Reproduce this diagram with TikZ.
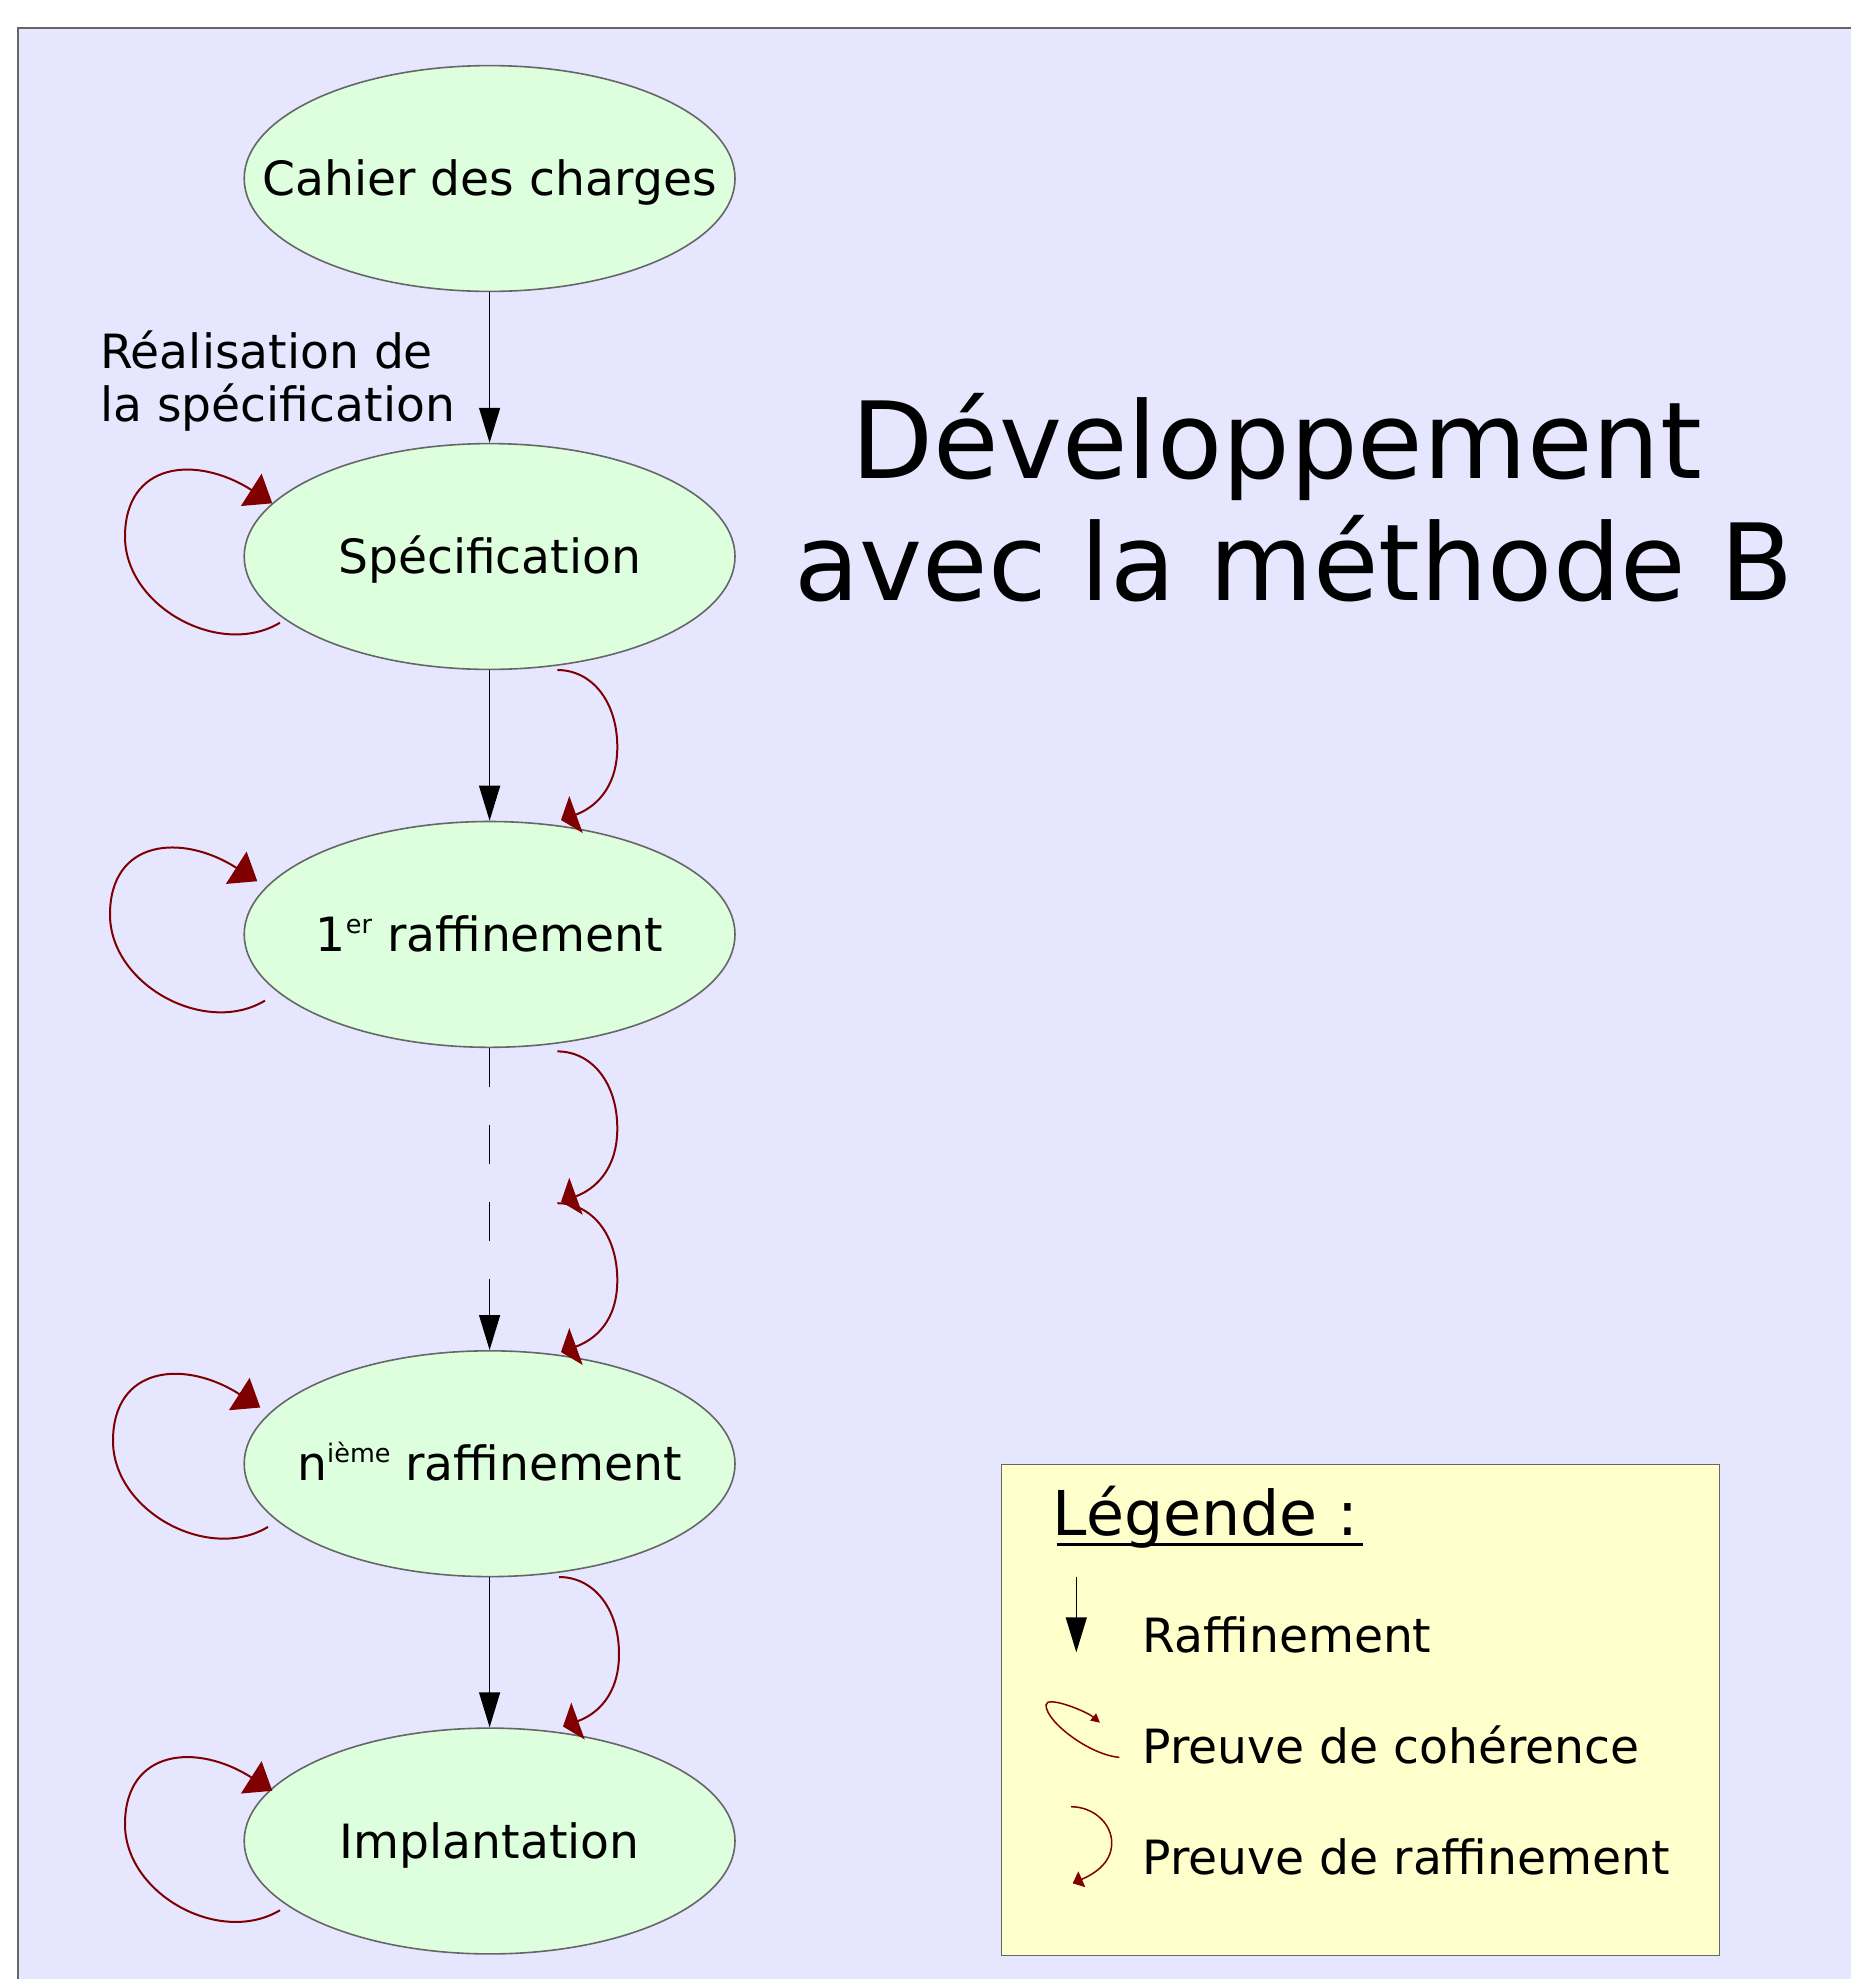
\documentclass[tikz,border=0pt]{standalone}
\usepackage{fontspec}
\setmainfont{DejaVu Sans}
\usetikzlibrary{shapes.geometric,arrows.meta,calc}

\definecolor{fondplan}{HTML}{E6E6FF}
\definecolor{fondetape}{HTML}{DDFFDD}
\definecolor{fondlegende}{HTML}{FFFFCC}
\definecolor{cadre}{HTML}{666666}
\definecolor{preuve}{HTML}{800000}

% superscript used in the step labels
\newcommand\expo[1]{\raisebox{18pt}{\fontsize{25.5}{25.5}\selectfont #1}}
% body text size
\newcommand\corps{\fontsize{47.2}{53}\selectfont}

% consistency proof: a loop on the left side of a step (node, dx, dy)
\newcommand\cohloop[3]{%
  \draw[cohstyle]
    ($(#1.center)+({-209.6+(#2)},{66.2+(#3)})$)
    .. controls +(-60,36) and +(0,70) .. ($(#1.center)+({-364.6+(#2)},{-19.8+(#3)})$)
    .. controls +(0,-75) and +(-75.8,-48.5) .. ($(#1.center)+({-217.3+(#2)},{-53.2+(#3)})$);}

% refinement proof: a half loop on the right between two steps
\newcommand\preuveraff[2]{%
  \draw[refstyle] (#1) .. controls +(35,0) and +(0,-45) .. ++(60,77)
    .. controls +(0,42) and +(33,-12) .. (#2);}

\begin{document}
\begin{tikzpicture}[x=1pt,y=-1pt,
  etapenode/.style={ellipse, draw=cadre, line width=1.6pt, fill=fondetape,
    minimum width=490.8pt, minimum height=225.8pt, inner sep=0pt,
    text height=34pt, text depth=0pt, font=\corps},
  raffarrow/.style={line width=1.4pt, -{Triangle[length=35pt,width=21pt]}},
  cohstyle/.style={color=preuve, line width=2pt, -{Triangle[length=25pt,width=38pt]}},
  refstyle/.style={color=preuve, line width=2pt, -{Triangle[length=16pt,width=39pt]}},
  legtxt/.style={anchor=base west, inner sep=0pt, font=\corps}]

\useasboundingbox (0,0) rectangle (1851,1979);
\fill[white] (0,0) rectangle (1851,1979);

% drawing area
\fill[fondplan] (17.7,27.8) rectangle (1851,1979);
\draw[cadre, line width=1.8pt] (17.7,1979) -- (17.7,27.8) -- (1851,27.8);

% development steps
\node[etapenode] (cdc)  at (489.6,178.5)  {\makebox[0pt]{Cahier des charges}};
\node[etapenode] (spec) at (489.6,556.5)  {\makebox[0pt]{Spécification}};
\node[etapenode] (raf1) at (489.6,934.4)  {\makebox[0pt]{1\expo{er} raffinement}};
\node[etapenode] (rafn) at (489.6,1463.7) {\makebox[0pt]{n\expo{ième} raffinement}};
\node[etapenode] (impl) at (489.6,1841)   {\makebox[0pt]{Implantation}};

\node[anchor=base west, align=left, inner sep=0pt, font=\corps] (real) at (100,421)
  {Réalisation de\\la spécification};

% refinement arrows
\draw[raffarrow] (cdc.south) -- (spec.north);
\draw[raffarrow] (spec.south) -- (raf1.north);
\draw[raffarrow, dash pattern=on 38.5pt off 38.5pt] (raf1.south) -- (rafn.north);
\draw[raffarrow] (rafn.south) -- (impl.north);

% consistency proofs
\cohloop{spec}{0}{0}
\cohloop{raf1}{-15}{0}
\cohloop{rafn}{-12}{-3}
\cohloop{impl}{0}{3}

% refinement proofs
\coordinate (r1a) at ($(spec.center)+(67.7,113.5)$);
\coordinate (r1b) at ($(raf1.center)+(71.4,-114.4)$);
\coordinate (r2a) at ($(raf1.center)+(67.7,117)$);
\coordinate (r2b) at ($(raf1.center)+(71.4,267.3)$);
\coordinate (r3a) at ($(raf1.center)+(67.7,268.8)$);
\coordinate (r3b) at ($(rafn.center)+(71.4,-111.7)$);
\coordinate (r4a) at ($(rafn.center)+(69.4,113.3)$);
\coordinate (r4b) at ($(impl.center)+(73.4,-114.5)$);
\preuveraff{r1a}{r1b}
\preuveraff{r2a}{r2b}
\preuveraff{r3a}{r3b}
\preuveraff{r4a}{r4b}

% title
\node[anchor=base, align=center, inner sep=0pt, font=\fontsize{106.5}{122}\selectfont] (titre)
  at (1293.8,600) {Développement\hspace*{0.318em}\\avec la méthode B};

% legend
\node[draw=cadre, line width=1.6pt, fill=fondlegende, anchor=north west,
  minimum width=718pt, minimum height=491pt, inner sep=0pt] (legende) at (1000.6,1463.7) {};
\node[anchor=base west, inner sep=0pt, font=\fontsize{61.8}{70}\selectfont] (legtitre)
  at (1052.5,1535.6) {Légende :};
\draw[line width=3pt] ([xshift=4pt,yshift=-9pt]legtitre.base west)
  -- ([xshift=5pt,yshift=-9pt]legtitre.base east);

\coordinate (i1a) at (1076.3,1577.3);
\coordinate (i1b) at (1076.3,1652.3);
\draw[raffarrow] (i1a) -- (i1b);
\node[legtxt] (lt1) at (1142.5,1652.5) {Raffinement};

\coordinate (i2a) at (1119.3,1757.3);
\coordinate (i2b) at (1100,1722.7);
\draw[color=preuve, line width=1.5pt, -{Triangle[length=9pt,width=9pt]}]
  (i2a) .. controls (1090,1755) and (1046,1722) .. (1046,1705)
  .. controls (1046,1695) and (1086,1711) .. (i2b);
\node[legtxt] (lt2) at (1142.5,1763.5) {Preuve de cohérence};

\coordinate (i3a) at (1071,1806.7);
\coordinate (i3b) at (1072.7,1883.3);
\draw[color=preuve, line width=1.5pt, -{Triangle[length=10pt,width=17pt]}]
  (i3a) .. controls +(22,0) and +(0,-20) .. ++(40.7,36.3)
  .. controls +(0,22) and +(18,-8) .. (i3b);
\node[legtxt] (lt3) at (1142.5,1874.5) {Preuve de raffinement};

\end{tikzpicture}
\end{document}
